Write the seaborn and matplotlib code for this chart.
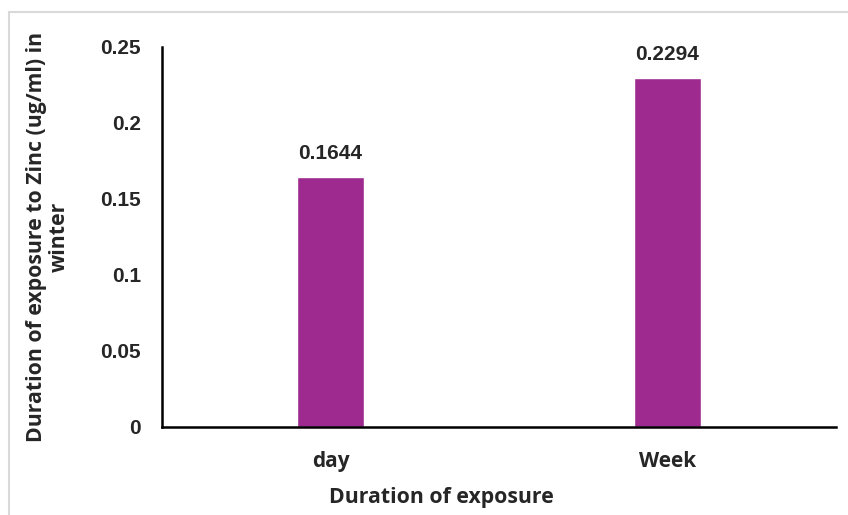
import matplotlib
matplotlib.use("Agg")
import matplotlib.pyplot as plt
import seaborn as sns
import pandas as pd
from matplotlib.patches import Rectangle

categories = ["day", "Week"]
zinc_values = [0.1644, 0.2294]
y_ticks = [0, 0.05, 0.1, 0.15, 0.2, 0.25]
y_tick_labels = ["0", "0.05", "0.1", "0.15", "0.2", "0.25"]

sns.set_theme(style="white")
plt.rcParams["font.family"] = ["Liberation Sans", "DejaVu Sans"]
label_font = ["Open Sans", "DejaVu Sans"]

df = pd.DataFrame({"duration": categories, "zinc": zinc_values})

fig = plt.figure(figsize=(8.48, 5.15), dpi=100)
ax = fig.add_axes([162 / 848, 1 - 427 / 515, (836 - 162) / 848, (427 - 47) / 515])

sns.barplot(data=df, x="duration", y="zinc", color="#9E2A90", saturation=1,
            width=0.2, ax=ax)

ax.set_ylim(0, 0.25)
ax.set_xlim(-0.5, 1.5)
ax.set_yticks(y_ticks)
ax.set_yticklabels(y_tick_labels, fontsize=15, fontweight="bold")
ax.set_xticks(range(len(categories)))
ax.set_xticklabels(categories, fontsize=15, fontweight="bold", family=label_font)

ax.tick_params(axis="y", direction="out", length=6, width=1.5, color="black", pad=9)
ax.tick_params(axis="x", length=0, pad=17)

for side in ["top", "right"]:
    ax.spines[side].set_visible(False)
for side in ["left", "bottom"]:
    ax.spines[side].set_color("black")
    ax.spines[side].set_linewidth(1.8)

for i, v in enumerate(zinc_values):
    ax.annotate(f"{v:.4f}", (i, v), xytext=(0, 10), textcoords="offset points",
                ha="center", va="bottom", fontsize=15, fontweight="bold")

ax.set_xlabel("Duration of exposure", fontsize=15.3, fontweight="bold",
              family=label_font)
ax.xaxis.set_label_coords((441 - 162) / 674, -(487 - 427) / 380)
ax.set_ylabel("Duration of exposure to Zinc (ug/ml) in\nwinter", fontsize=15.3,
              fontweight="bold", family=label_font, linespacing=1.15)
ax.yaxis.set_label_coords(-(162 - 70) / 674, 0.5)

# light frame around the chart area
fig.patches.append(Rectangle((9 / 848, -0.1), 1.2, 1 - 12 / 515 + 0.1,
                             transform=fig.transFigure, fill=False,
                             edgecolor="#D9D9D9", linewidth=1.5))

fig.savefig("out.png", dpi=100)
